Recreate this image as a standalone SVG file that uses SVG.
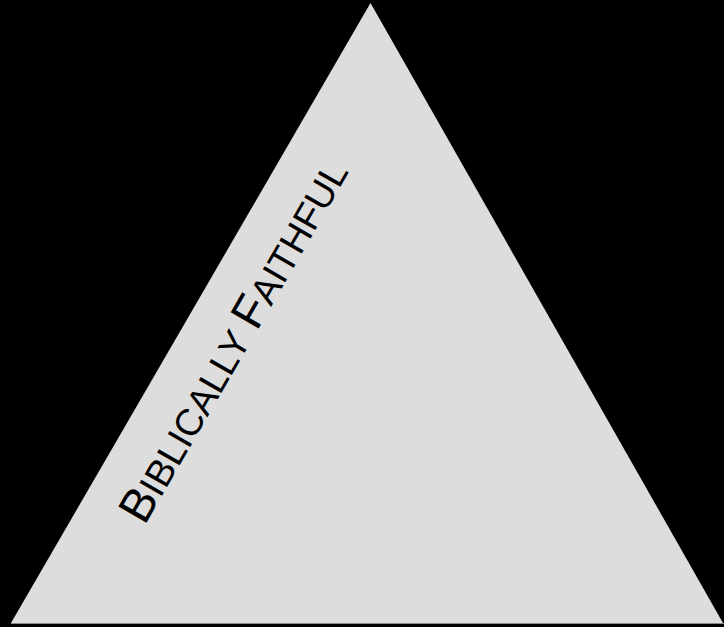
<svg xmlns="http://www.w3.org/2000/svg" width="724" height="627" viewBox="0 0 724 627">
<style>
.lbl{font-family:"Liberation Sans",Arial,sans-serif;fill:#000}
.big{font-size:47px}
.sm{font-size:37.6px}
</style>
<rect x="0" y="0" width="724" height="627" fill="#000"/>
<g id="triangle">
<polygon points="370.5,3 11,623 723,623" fill="#dddddd"/>
<line x1="11" y1="623.5" x2="724" y2="623.5" stroke="#8a8a8a" stroke-width="1"/>
</g>
<g id="label">
<text class="lbl" transform="translate(144.5,526) rotate(-60)"><tspan class="big">B</tspan><tspan class="sm">IBLICALLY </tspan><tspan class="big">F</tspan><tspan class="sm">AITHFUL</tspan></text>
</g>
</svg>
